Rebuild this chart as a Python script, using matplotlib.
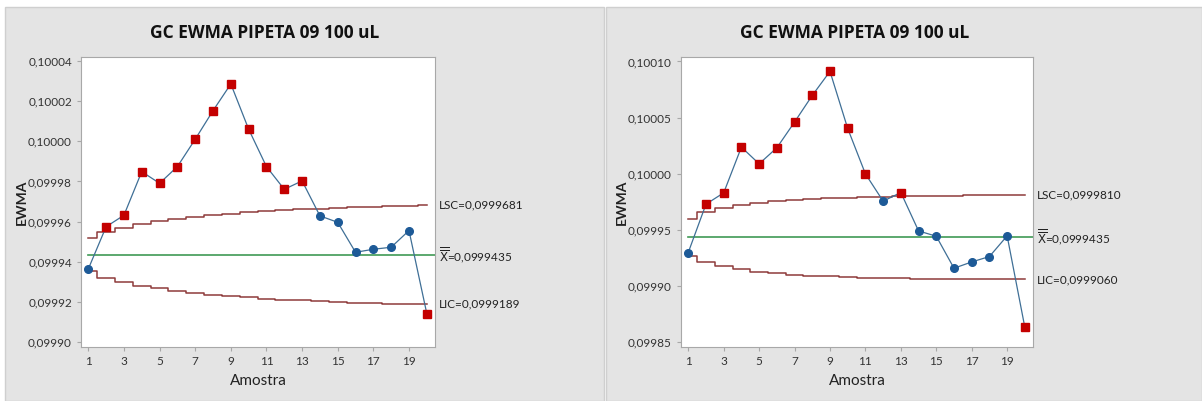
import numpy as np
import matplotlib
matplotlib.use('Agg')
import matplotlib.pyplot as plt
from matplotlib.patches import Rectangle
from matplotlib.ticker import FuncFormatter

plt.rcParams['font.family'] = ['Lato', 'DejaVu Sans']
plt.rcParams['mathtext.fontset'] = 'dejavusans'

# dados
amostra = list(range(1, 21))

ewma_esq = [0.0999365, 0.0999575, 0.0999632, 0.0999849, 0.0999791, 0.0999874, 0.1000010,
            0.1000152, 0.1000285, 0.1000060, 0.0999874, 0.0999761, 0.0999803, 0.0999629,
            0.0999597, 0.0999448, 0.0999463, 0.0999473, 0.0999556, 0.0999143]
lsc_esq = [0.0999517, 0.0999549, 0.0999571, 0.0999588, 0.0999602, 0.0999614, 0.0999624,
           0.0999632, 0.0999640, 0.0999646, 0.0999652, 0.0999657, 0.0999661, 0.0999665,
           0.0999669, 0.0999672, 0.0999674, 0.0999677, 0.0999679, 0.0999681]
lic_esq = [0.0999353, 0.0999322, 0.0999299, 0.0999282, 0.0999268, 0.0999256, 0.0999246,
           0.0999238, 0.0999230, 0.0999224, 0.0999218, 0.0999213, 0.0999209, 0.0999205,
           0.0999201, 0.0999198, 0.0999196, 0.0999193, 0.0999191, 0.0999189]
fora_esq = [0, 1, 1, 1, 1, 1, 1, 1, 1, 1, 1, 1, 1, 0, 0, 0, 0, 0, 0, 1]

ewma_dir = [0.0999300, 0.0999730, 0.0999831, 0.1000238, 0.1000089, 0.1000232, 0.1000461,
            0.1000698, 0.1000912, 0.1000404, 0.1000000, 0.0999757, 0.0999834, 0.0999492,
            0.0999445, 0.0999160, 0.0999216, 0.0999264, 0.0999448, 0.0998634]
lsc_dir = [0.0999600, 0.0999657, 0.0999694, 0.0999720, 0.0999740, 0.0999755, 0.0999767,
           0.0999776, 0.0999783, 0.0999789, 0.0999794, 0.0999797, 0.0999800, 0.0999803,
           0.0999805, 0.0999806, 0.0999808, 0.0999809, 0.0999809, 0.0999810]
lic_dir = [0.0999270, 0.0999213, 0.0999176, 0.0999150, 0.0999130, 0.0999115, 0.0999103,
           0.0999094, 0.0999087, 0.0999081, 0.0999076, 0.0999073, 0.0999070, 0.0999067,
           0.0999065, 0.0999064, 0.0999062, 0.0999061, 0.0999061, 0.0999060]
fora_dir = [0, 1, 1, 1, 1, 1, 1, 1, 1, 1, 1, 0, 1, 0, 0, 0, 0, 0, 0, 1]

media = 0.0999435
titulo = 'GC EWMA PIPETA 09 100 uL'
rot_esq = ['LSC=0,0999681', 'LIC=0,0999189']
rot_dir = ['LSC=0,0999810', 'LIC=0,0999060']
yticks_esq = [0.09990, 0.09992, 0.09994, 0.09996, 0.09998, 0.10000, 0.10002, 0.10004]
yticks_dir = [0.09985, 0.09990, 0.09995, 0.10000, 0.10005, 0.10010]

fig = plt.figure(figsize=(12.02, 4.01), dpi=100)
fig.patch.set_facecolor('white')
fig.patches.append(Rectangle((5/1202, 0), 599/1202, 394/401, transform=fig.transFigure,
                             facecolor='#e4e4e4', edgecolor='#cfcfcf', lw=1, zorder=-5))
fig.patches.append(Rectangle((606/1202, 0), 596/1202, 394/401, transform=fig.transFigure,
                             facecolor='#e4e4e4', edgecolor='#cfcfcf', lw=1, zorder=-5))

virgula = FuncFormatter(lambda v, p: ('%.5f' % v).replace('.', ','))


def painel(rect, y, lsc, lic, fora, rots, yticks, ylim, tx):
    ax = fig.add_axes(rect)
    ax.set_facecolor('white')
    x = np.array(amostra)
    ax.plot(x, lsc, drawstyle='steps-mid', color='#8e3b3b', lw=1.1)
    ax.plot(x, lic, drawstyle='steps-mid', color='#8e3b3b', lw=1.1)
    ax.plot([1, 21], [media, media], color='#3f9a55', lw=1.2)
    ax.plot(x, y, color='#3f6f96', lw=0.9)
    f = np.array(fora) == 1
    ax.plot(x[~f], np.array(y)[~f], 'o', color='#1d5a97', ms=5.5, mec='#1d5a97')
    ax.plot(x[f], np.array(y)[f], 's', color='#c40000', ms=5.8, mec='#c40000')
    ax.set_xlim(0.59, 20.46)
    ax.set_ylim(*ylim)
    ax.set_xticks(range(1, 20, 2))
    ax.set_yticks(yticks)
    ax.yaxis.set_major_formatter(virgula)
    for s in ax.spines.values():
        s.set_color('#a8a8a8')
    ax.tick_params(colors='#333333', labelsize=8.5, length=3, width=0.8)
    ax.tick_params(axis='both', color='#a8a8a8')
    ax.set_xlabel('Amostra', fontsize=11, color='#222222', labelpad=5)
    ax.set_ylabel('EWMA', fontsize=10, fontweight='bold', color='#222222', labelpad=0)
    ax.text(1.01, lsc[-1], rots[0], transform=ax.get_yaxis_transform(), fontsize=8.5,
            va='center', ha='left', color='#222222', clip_on=False)
    ax.text(1.01, media, r'$\overline{\overline{\mathrm{X}}}$=0,0999435',
            transform=ax.get_yaxis_transform(), fontsize=8.5, va='center', ha='left',
            color='#222222', clip_on=False)
    ax.text(1.01, lic[-1], rots[1], transform=ax.get_yaxis_transform(), fontsize=8.5,
            va='center', ha='left', color='#222222', clip_on=False)
    fig.text(tx, 1 - 33/401, titulo, fontsize=12.5, fontweight='bold', ha='center',
             va='center', color='#111111', family=['Open Sans', 'DejaVu Sans'])
    return ax


painel([81/1202, 54/401, 354/1202, 290/401], ewma_esq, lsc_esq, lic_esq, fora_esq,
       rot_esq, yticks_esq, (0.0998977, 0.1000419), 265/1202)
painel([681/1202, 54/401, 352/1202, 290/401], ewma_dir, lsc_dir, lic_dir, fora_dir,
       rot_dir, yticks_dir, (0.0998459, 0.1001040), 855/1202)

fig.savefig('out.png', dpi=100)
